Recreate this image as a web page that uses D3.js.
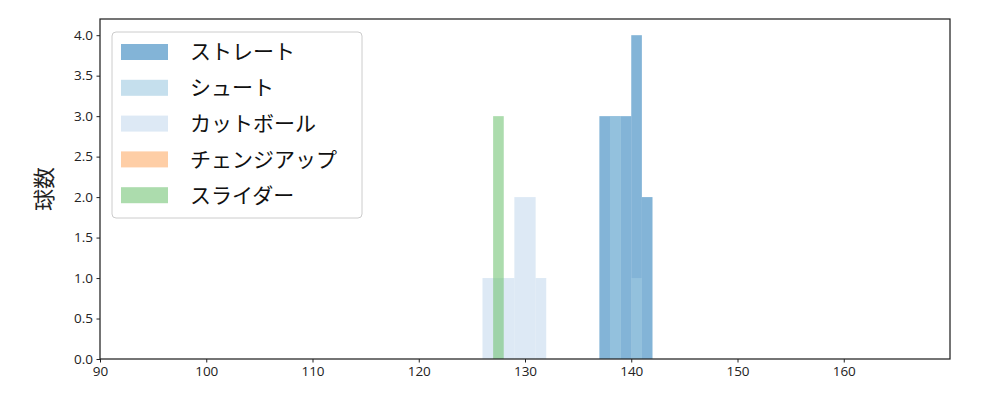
<!DOCTYPE html>
<html>
<head>
<meta charset="utf-8">
<script src="https://cdn.jsdelivr.net/npm/d3@7"></script>
<style>
  body { margin: 0; background: #fff; }
  svg text { font-family: "Noto Sans CJK JP", "DejaVu Sans", sans-serif; }
  .tick text { font-family: "Open Sans", "DejaVu Sans", sans-serif; }
</style>
</head>
<body>
<div id="chart"></div>
<script>
// pitch types and their colours
const pitchNames = ["ストレート", "シュート", "カットボール", "チェンジアップ", "スライダー"];
const pitchColors = ["#3182bd", "#9ecae1", "#c6dbef", "#fdae6b", "#74c476"];

// histogram bins (left edge, km/h) and counts per pitch type, bin width 1
const straightBins = [137, 138, 139, 140, 141];
const straightCounts = [3, 3, 3, 4, 2];
const shootBins = [138, 140];
const shootCounts = [3, 1];
const cutBins = [126, 127, 128, 129, 130, 131];
const cutCounts = [1, 1, 1, 2, 2, 1];
const changeBins = [];
const changeCounts = [];
const sliderBins = [127];
const sliderCounts = [3];

const xTicks = [90, 100, 110, 120, 130, 140, 150, 160];
const yTicks = [0, 0.5, 1, 1.5, 2, 2.5, 3, 3.5, 4];

const series = [
  { bins: straightBins, counts: straightCounts },
  { bins: shootBins, counts: shootCounts },
  { bins: cutBins, counts: cutCounts },
  { bins: changeBins, counts: changeCounts },
  { bins: sliderBins, counts: sliderCounts }
];

const width = 1000, height = 400;
const margin = { top: 19, right: 50, bottom: 41, left: 100 };

const svg = d3.select("#chart").append("svg")
  .attr("width", width)
  .attr("height", height);

const x = d3.scaleLinear().domain([90, 170]).range([margin.left, width - margin.right]);
const y = d3.scaleLinear().domain([0, 4.2]).range([height - margin.bottom, margin.top]);

// bars
series.forEach((s, i) => {
  svg.append("g")
    .selectAll("rect")
    .data(s.bins.map((b, j) => ({ b, c: s.counts[j] })))
    .join("rect")
    .attr("x", d => x(d.b))
    .attr("width", d => x(d.b + 1) - x(d.b))
    .attr("y", d => y(d.c))
    .attr("height", d => y(0) - y(d.c))
    .attr("fill", pitchColors[i])
    .attr("fill-opacity", 0.6);
});

// axes
const xAxis = svg.append("g")
  .attr("transform", `translate(0,${height - margin.bottom})`)
  .call(d3.axisBottom(x).tickValues(xTicks).tickFormat(d3.format("d")).tickSizeOuter(0).tickSize(3.5).tickPadding(3.5));
const yAxis = svg.append("g")
  .attr("transform", `translate(${margin.left},0)`)
  .call(d3.axisLeft(y).tickValues(yTicks).tickFormat(d3.format(".1f")).tickSizeOuter(0).tickSize(3.5).tickPadding(3.5));

[xAxis, yAxis].forEach(g => {
  g.select(".domain").remove();
  g.selectAll(".tick line").attr("stroke", "#222").attr("stroke-width", 1);
  g.selectAll(".tick text").attr("fill", "#222").style("font-size", "13.5px");
});

// frame
svg.append("rect")
  .attr("x", margin.left)
  .attr("y", margin.top)
  .attr("width", width - margin.left - margin.right)
  .attr("height", height - margin.top - margin.bottom)
  .attr("fill", "none")
  .attr("stroke", "#222")
  .attr("stroke-width", 1.25);

// y label
svg.append("text")
  .attr("transform", `translate(52,${(margin.top + height - margin.bottom) / 2}) rotate(-90)`)
  .attr("text-anchor", "middle")
  .style("font-size", "22px")
  .attr("fill", "#222")
  .text("球数");

// legend
const legend = svg.append("g").attr("transform", "translate(112,32)");
legend.append("rect")
  .attr("width", 250)
  .attr("height", 186)
  .attr("rx", 4)
  .attr("fill", "#fff")
  .attr("fill-opacity", 0.8)
  .attr("stroke", "#ccc");

pitchNames.forEach((name, i) => {
  const row = legend.append("g").attr("transform", `translate(0,${20 + i * 35.8})`);
  row.append("rect")
    .attr("x", 9)
    .attr("y", -8)
    .attr("width", 47)
    .attr("height", 16)
    .attr("fill", pitchColors[i])
    .attr("fill-opacity", 0.6);
  row.append("text")
    .attr("x", 78)
    .attr("dy", "0.35em")
    .style("font-size", "21px")
    .attr("fill", "#111")
    .text(name);
});
</script>
</body>
</html>
